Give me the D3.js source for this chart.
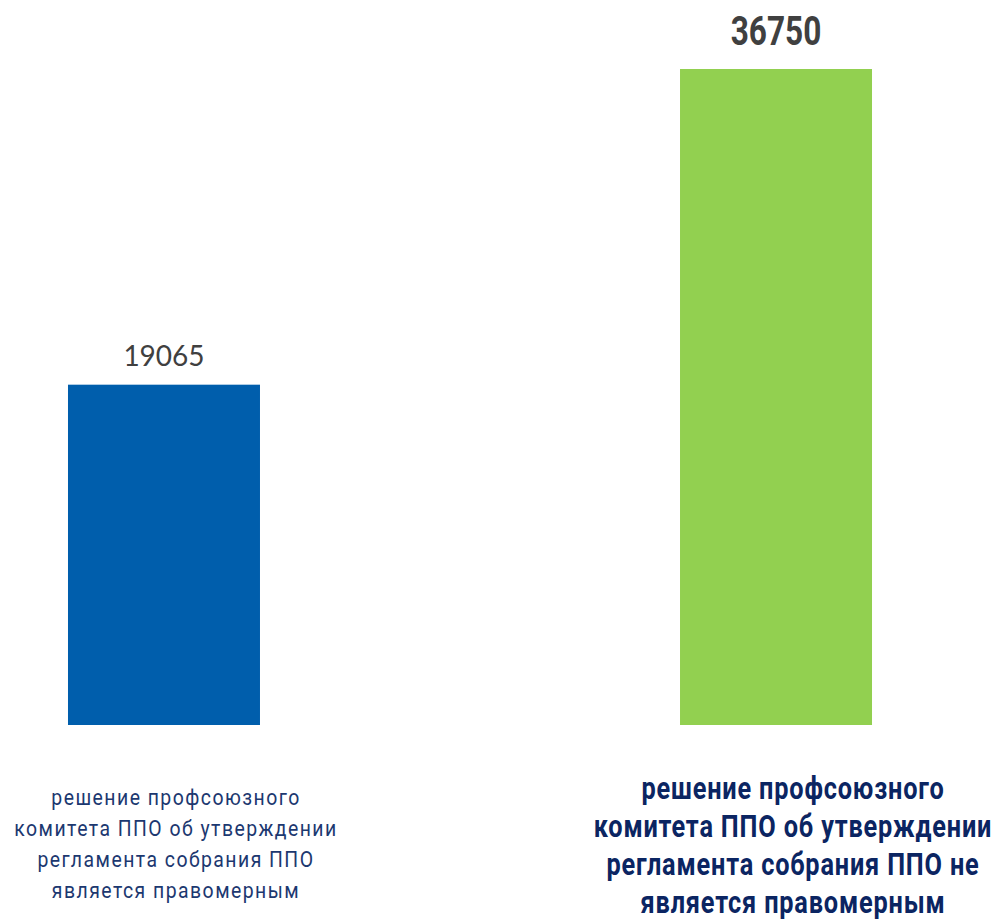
<!DOCTYPE html>
<html>
<head>
<meta charset="utf-8">
<script src="https://cdn.jsdelivr.net/npm/d3@7"></script>
<style>
	body { margin: 0; background: #fff; }
	svg { display: block; }
</style>
</head>
<body>
<div id="main"></div>
<script>
const categories = [
	"решение профсоюзного комитета ППО об утверждении регламента собрания ППО является правомерным",
	"решение профсоюзного комитета ППО об утверждении регламента собрания ППО не является правомерным",
];
const values = [19065, 36750];
const labelLines = [
	["решение профсоюзного", "комитета ППО об утверждении", "регламента собрания ППО", "является правомерным"],
	["решение профсоюзного", "комитета ППО об утверждении", "регламента собрания ППО не", "является правомерным"],
];
const barColors = ["#005eac", "#92d050"];

const width = 997,
	height = 919;

const svg = d3
	.select("#main")
	.append("svg")
	.attr("width", width)
	.attr("height", height);

const x = d3
	.scaleBand()
	.domain(categories)
	.range([-142, 1082])
	.paddingInner(0.6863)
	.paddingOuter(0.3431);

const y = d3.scaleLinear().domain([0, 36750]).range([725, 69]);

const data = categories.map((c, i) => ({
	cat: c,
	value: values[i],
	lines: labelLines[i],
	color: barColors[i],
	bold: i === 1,
}));

svg.selectAll("rect.bar")
	.data(data)
	.enter()
	.append("rect")
	.classed("bar", true)
	.attr("x", (d) => x(d.cat))
	.attr("y", (d) => y(d.value))
	.attr("width", x.bandwidth())
	.attr("height", (d) => y(0) - y(d.value))
	.style("fill", (d) => d.color);

// value labels
data.forEach((d) => {
	const cx = x(d.cat) + x.bandwidth() / 2;
	if (d.bold) {
		svg.append("text")
			.attr("transform", `translate(${cx},${y(d.value) - 24}) scale(0.77,1)`)
			.attr("text-anchor", "middle")
			.style("font-family", "Roboto")
			.style("font-weight", 700)
			.style("font-size", "41px")
			.style("fill", "#404040")
			.text(d.value);
	} else {
		svg.append("text")
			.attr("x", cx)
			.attr("y", y(d.value) - 19)
			.attr("text-anchor", "middle")
			.style("font-family", "Lato")
			.style("font-size", "28px")
			.style("fill", "#404040")
			.text(d.value);
	}
});

// category labels
data.forEach((d) => {
	const cx = x(d.cat) + x.bandwidth() / 2;
	const g = svg.append("g");
	d.lines.forEach((line, j) => {
		if (d.bold) {
			g.append("text")
				.attr("transform", `translate(${cx + 17},${799 + j * 38}) scale(0.817,1)`)
				.attr("text-anchor", "middle")
				.style("font-family", "Roboto")
				.style("font-weight", 700)
				.style("font-size", "31px")
				.style("letter-spacing", "1px")
				.style("fill", "#0b2562")
				.text(line);
		} else {
			g.append("text")
				.attr("transform", `translate(${cx + 12},${805 + j * 31}) scale(0.863,1)`)
				.attr("text-anchor", "middle")
				.style("font-family", "Roboto")
				.style("font-size", "22.5px")
				.style("letter-spacing", "1.7px")
				.style("fill", "#1c3870")
				.text(line);
		}
	});
});
</script>
</body>
</html>
